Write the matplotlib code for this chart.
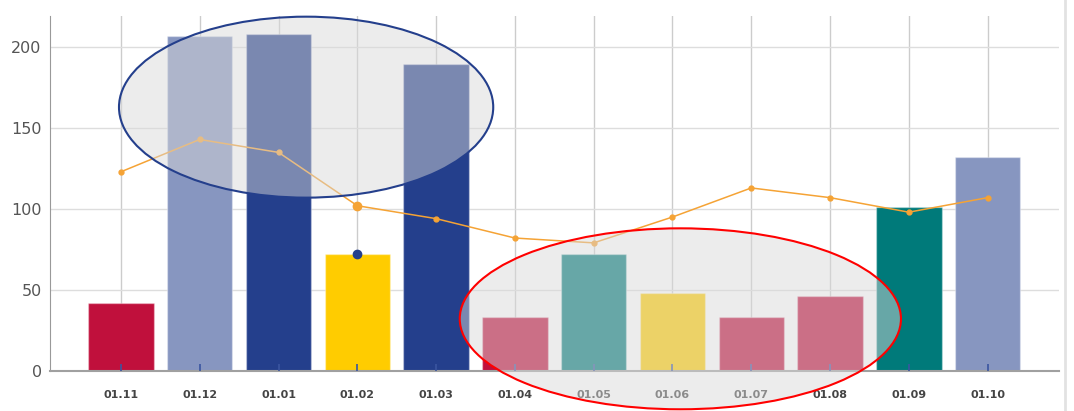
import matplotlib.pyplot as plt
import matplotlib.transforms as mtransforms
from matplotlib.patches import Ellipse
from matplotlib.lines import Line2D

months = ['01.11', '01.12', '01.01', '01.02', '01.03', '01.04',
          '01.05', '01.06', '01.07', '01.08', '01.09', '01.10']
bar_values = [42, 207, 208, 72, 190, 33, 72, 48, 33, 46, 101, 132]
line_values = [123, 143, 135, 102, 94, 82, 79, 95, 113, 107, 98, 107]
bar_colors = ['#C0103C', '#8796C0', '#243F8C', '#FFCC00', '#243F8C', '#C0103C',
              '#007A7A', '#FFCC00', '#C0103C', '#C0103C', '#007A7A', '#8796C0']
hover_index = 3

fig = plt.figure(figsize=(10.74, 4.11), dpi=100)
ax = fig.add_axes([0.0466, 0.0985, 0.939, 0.8625])

x = list(range(len(months)))
ax.bar(x, bar_values, width=0.83, color=bar_colors,
       edgecolor=(1, 1, 1, 0.35), linewidth=1, zorder=2)
ax.plot(x, line_values, color='#F5A335', linewidth=1.1, marker='o',
        markersize=3.5, zorder=3)
# highlighted point of the hovered month
ax.plot(hover_index, line_values[hover_index], 'o', color='#F5A335',
        markersize=6, zorder=3)
ax.plot(hover_index, bar_values[hover_index], 'o', color='#243F8C',
        markersize=6, zorder=3)

ax.set_xlim(-0.9, 11.9)
ax.set_ylim(0, 219.4)
ax.set_xticks(x)
ax.set_xticklabels(months, fontsize=8, fontweight='bold', color='#444444')
ax.set_yticks([0, 50, 100, 150, 200])
ax.tick_params(axis='y', length=0, labelsize=11.5, labelcolor='#555555', pad=6)
ax.tick_params(axis='x', length=0, pad=14)

# small category marks sitting on the baseline, above the bars
trans = mtransforms.blended_transform_factory(ax.transData, ax.transAxes)
ax.vlines(x, 0, 0.018, transform=trans, colors='#3A55A0', linewidth=1.2,
          zorder=2.8)

ax.set_axisbelow(True)
ax.grid(axis='x', color='#cccccc', linewidth=1)
ax.grid(axis='y', color='#dddddd', linewidth=1)
for side in ['top', 'right']:
    ax.spines[side].set_visible(False)
ax.spines['left'].set_color('#999999')
ax.spines['bottom'].set_color('#a0a0a0')
ax.spines['bottom'].set_linewidth(1.5)
ax.spines['bottom'].set_zorder(2.6)

# highlight ellipses drawn over bars, line and labels
ax.add_patch(Ellipse((2.35, 163), 4.75, 112, facecolor=(0.85, 0.85, 0.85, 0.48),
                     edgecolor='#243F8C', linewidth=1.5, clip_on=False, zorder=5))
ax.add_patch(Ellipse((7.1, 32), 5.6, 112, facecolor=(0.85, 0.85, 0.85, 0.48),
                     edgecolor='#FF0000', linewidth=1.5, clip_on=False, zorder=5))

# frame line on the right
fig.add_artist(Line2D([0.9914, 0.9914], [0, 1], color='#e2e2e2', linewidth=2))

fig.savefig('out.png', dpi=100)
